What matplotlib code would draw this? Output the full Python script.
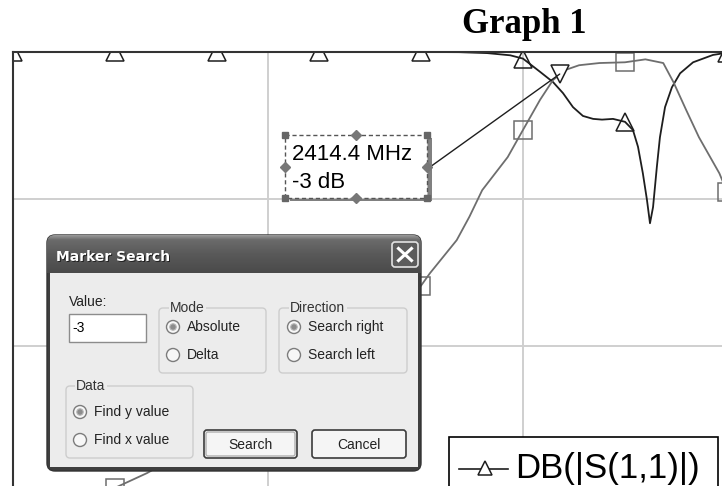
import numpy as np
import matplotlib.pyplot as plt
from matplotlib.patches import Rectangle, FancyBboxPatch, Circle, ConnectionPatch

W, H = 722, 486

# swept response, MHz / dB
s11_freq = [2200, 2240, 2280, 2320, 2360, 2375, 2386, 2395, 2400, 2406.7, 2411.8, 2415.7,
            2419.6, 2423.5, 2427.5, 2431, 2435.3, 2440, 2443.1, 2445.1, 2447, 2448.6,
            2449.8, 2451, 2452.5, 2453.7, 2455.7, 2458.4, 2461.6, 2466.7, 2474.5, 2480]
s11_db = [0, 0, 0, 0, 0, -0.02, -0.15, -0.45, -0.9, -2.7, -4.1, -5.6,
          -7.5, -8.7, -9.1, -9.2, -9.1, -9.5, -10.6, -12.9, -16.5, -20.1,
          -23.3, -21.1, -15.6, -11.6, -7.5, -4.8, -2.9, -1.4, -0.4, -0.1]

s21_freq = [2200, 2240, 2252.5, 2280, 2320, 2360, 2363.5, 2374, 2379, 2384, 2394, 2400,
            2406.7, 2411.8, 2417, 2422, 2430, 2440, 2448, 2455, 2459, 2464, 2469, 2477, 2480]
s21_db = [-66, -59.3, -57.3, -52, -43, -31.8, -30.1, -25.6, -22.4, -18.8, -14.3, -10.6,
          -6.5, -3.8, -2.4, -1.8, -1.5, -1.4, -1.0, -1.5, -4.1, -7.9, -11.6, -16.5, -19]

mark_f, mark_db = 2414.4, -3
legend_label = 'DB(|S(1,1)|)'

S11_COL = '#1e1e1e'
S21_COL = '#6e6e6e'

fig = plt.figure(figsize=(W / 100, H / 100), dpi=100)
fig.patch.set_facecolor('white')

# graph area: 2200 MHz at the left frame, 0 dB at the top frame
ax = fig.add_axes([13 / W, (H - 493) / H, 714 / W, 441 / H])
ax.set_xlim(2200, 2480)
ax.set_ylim(-60, 0)
ax.set_xticks([2200, 2300, 2400])
ax.set_yticks([-60, -40, -20, 0])
ax.tick_params(length=0, labelbottom=False, labelleft=False)
ax.grid(color='#cfcfcf', lw=1.4)
ax.set_axisbelow(True)
for side in ['right', 'bottom']:
    ax.spines[side].set_visible(False)
for side in ['left', 'top']:
    ax.spines[side].set_color('#333333')
    ax.spines[side].set_linewidth(1.5)

every40 = lambda fr: [i for i, f in enumerate(fr) if f % 40 == 0]
ax.plot(s11_freq, s11_db, color=S11_COL, lw=1.3, marker='^', ms=13, mfc='none',
        mec=S11_COL, mew=1.1, markevery=every40(s11_freq))
ax.plot(s21_freq, s21_db, color=S21_COL, lw=1.3, marker='s', ms=12.5, mfc='none',
        mec=S21_COL, mew=1.1, markevery=every40(s21_freq))
ax.plot([mark_f], [mark_db], marker='v', ms=13, mfc='white', mec=S11_COL, mew=1.1)

fig.text(524 / W, 1 - 33 / H, 'Graph 1', ha='center', va='baseline',
         family='Liberation Serif', weight='bold', size=25)

# overlay in pixel units for the legend, the marker label and the dialog
ov = fig.add_axes([0, 0, 1, 1])
ov.set_xlim(0, W)
ov.set_ylim(H, 0)
ov.axis('off')
ov.set_zorder(5)


def rbox(x0, y0, x1, y1, r=0, **kw):
    p = FancyBboxPatch((x0, y0), x1 - x0, y1 - y0,
                       boxstyle='round,pad=0,rounding_size=%g' % r if r else 'square,pad=0', **kw)
    ov.add_patch(p)
    return p


def radio(x, y, label, on=False):
    ov.add_patch(Circle((x, y), 6.5, facecolor='#f7f7f7', edgecolor='#7c7c7c', lw=1, zorder=3))
    if on:
        ov.add_patch(Circle((x, y), 3.2, facecolor='#8c8c8c', edgecolor='#b4b4b4', lw=0.8,
                            zorder=4))
    ov.text(x + 14, y, label, ha='left', va='center', family='Liberation Sans',
            size=10, color='#222222', zorder=4)


# legend box (runs off the bottom edge)
rbox(449, 437, 718, 510, facecolor='white', edgecolor='black', lw=1.2)
ov.plot([459, 508], [469, 469], color=S11_COL, lw=1.2)
ov.plot(485, 468, marker='^', ms=10, mfc='white', mec=S11_COL, mew=1.1)
ov.text(515, 468, legend_label, ha='left', va='center', family='Liberation Sans', size=25)

# marker label box with selection handles
rbox(427, 138, 432, 200, facecolor='#808080', edgecolor='none')
rbox(290, 197, 432, 201, facecolor='#808080', edgecolor='none')
rbox(285, 135, 427, 198, facecolor='white', edgecolor='#555555', lw=1, ls=(0, (3, 2)))
ov.text(292, 154, '2414.4 MHz', ha='left', va='center', family='Liberation Sans', size=16)
ov.text(292, 182, '-3 dB', ha='left', va='center', family='Liberation Sans', size=16)
for hx, hy in [(285, 135), (427, 135), (285, 198), (427, 198)]:
    ov.plot(hx, hy, marker='s', ms=5, color='#666666')
for hx, hy in [(356, 135), (356, 198), (285, 167), (427, 167)]:
    ov.plot(hx, hy, marker='D', ms=5, color='#777777')

lead = ConnectionPatch(xyA=(430, 167), coordsA=ov.transData, xyB=(mark_f, mark_db),
                       coordsB=ax.transData, color=S11_COL, lw=1)
fig.add_artist(lead)

# Marker Search dialog
frame = rbox(47, 235, 421, 471, r=8, facecolor='#3e3e3e', edgecolor='#333333', lw=1)
shade = np.interp(np.linspace(0, 1, 60), [0, 0.12, 0.5, 1], [0.60, 0.42, 0.35, 0.29])
bar = np.repeat(np.stack([shade] * 3, axis=-1)[:, None, :], 2, axis=1)
img = ov.imshow(bar, extent=(47, 421, 273, 235), aspect='auto', zorder=1.5,
                interpolation='bilinear')
img.set_clip_path(frame)
ov.set_xlim(0, W)
ov.set_ylim(H, 0)
rbox(50, 273, 418, 467, facecolor='#ececec', edgecolor='none', zorder=2)

ov.text(57, 258, 'Marker Search', ha='left', va='center', family='DejaVu Sans',
        weight='bold', size=10, color='#222222', zorder=3)
ov.text(56, 257, 'Marker Search', ha='left', va='center', family='DejaVu Sans',
        weight='bold', size=10, color='white', zorder=3)
rbox(392, 242, 418, 267, r=3, facecolor='#5c5c5c', edgecolor='#e2e2e2', lw=1.2, zorder=3)
ov.plot([398.5, 411.5], [248.5, 260.5], color='white', lw=2.2, zorder=4)
ov.plot([398.5, 411.5], [260.5, 248.5], color='white', lw=2.2, zorder=4)

ov.text(69, 302, 'Value:', ha='left', va='center', family='Liberation Sans', size=10,
        color='#222222', zorder=3)
rbox(69, 314, 146, 342, facecolor='white', edgecolor='#8c8c8c', lw=1, zorder=3)
ov.text(72, 328, '-3', ha='left', va='center', family='Liberation Sans', size=10, zorder=4)

groups = [(159, 308, 266, 373, 'Mode', 170),
          (279, 308, 407, 373, 'Direction', 290),
          (66, 386, 193, 458, 'Data', 76)]
for x0, y0, x1, y1, name, lx in groups:
    rbox(x0, y0, x1, y1, r=4, facecolor='none', edgecolor='#cdcdcd', lw=1, zorder=3)
    ov.text(lx, y0, name, ha='left', va='center', family='Liberation Sans', size=10,
            color='#333333', zorder=4,
            bbox=dict(boxstyle='square,pad=0.1', facecolor='#ececec', edgecolor='none'))

for args in [(173, 327, 'Absolute', True), (173, 355, 'Delta'),
             (294, 327, 'Search right', True), (294, 355, 'Search left'),
             (80, 412, 'Find y value', True), (80, 440, 'Find x value')]:
    radio(*args)

for x0, x1, name, default in [(204, 297, 'Search', True), (312, 406, 'Cancel', False)]:
    rbox(x0, 430, x1, 458, r=3, facecolor='#f5f5f5', edgecolor='#3c3c3c', lw=1.2, zorder=3)
    if default:
        rbox(x0 + 2, 432, x1 - 2, 456, r=2, facecolor='none', edgecolor='#b0b0b0', lw=1,
             zorder=3)
    ov.text((x0 + x1) / 2, 445, name, ha='center', va='center', family='Liberation Sans',
            size=10, color='#222222', zorder=4)

fig.savefig('out.png', dpi=100)
